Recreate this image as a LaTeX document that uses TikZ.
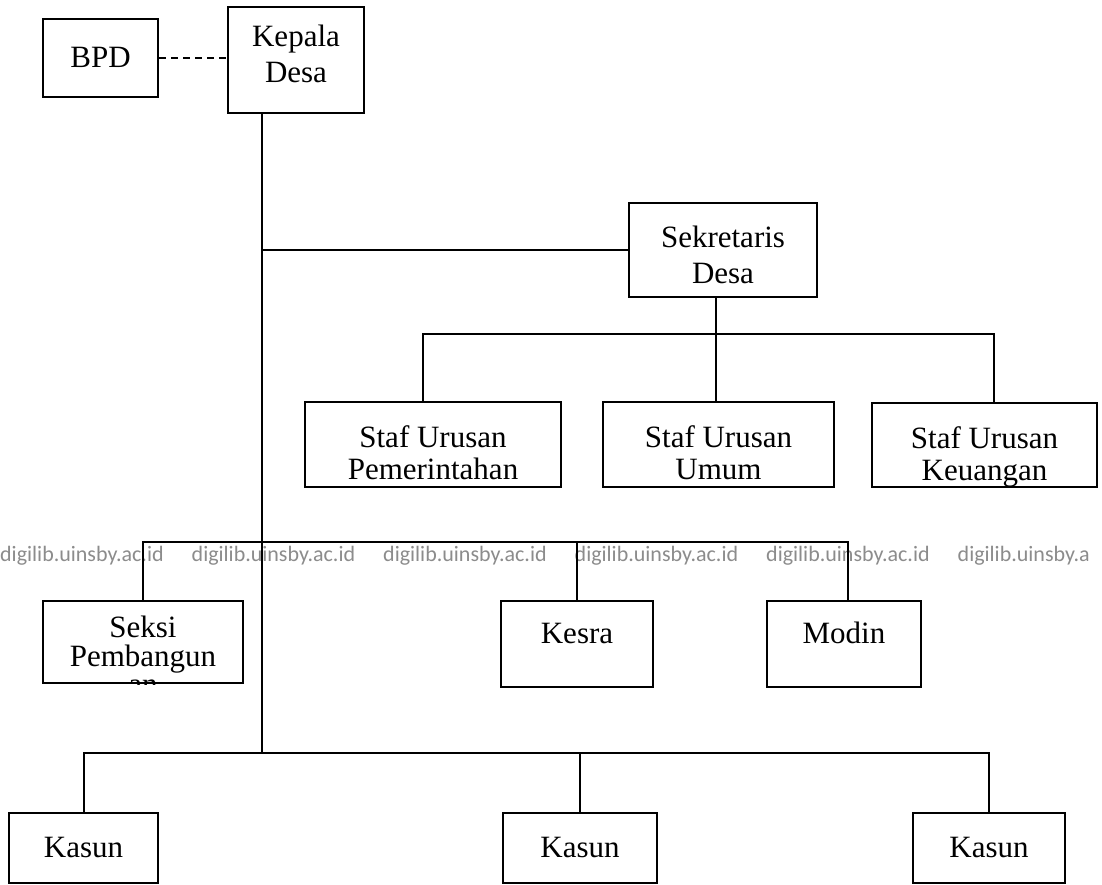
\documentclass[tikz,border=0pt]{standalone}
\usepackage{fontspec}
\setmainfont{Liberation Serif}
\newfontfamily\wmfont{Carlito}
\usetikzlibrary{calc}
\begin{document}
\begin{tikzpicture}[x=1pt,y=-1pt,
  box/.style={draw=black, line width=2pt, rectangle, inner sep=0pt},
  txt/.style={inner sep=0pt, align=center, font=\fontsize{31}{36}\selectfont},
  txtb/.style={inner sep=0pt, align=center, font=\fontsize{31}{32}\selectfont},
  link/.style={line width=2pt},
  wm/.style={text=black!45, font=\wmfont\fontsize{22}{22}\selectfont, anchor=base west, inner sep=0pt}]
\useasboundingbox[fill=white] (0,0) rectangle (1102,885);

% watermark
\foreach \i in {0,...,4} \node[wm] (wm\i) at (\i*191.5,561) {digilib.uinsby.ac.id};
\node[wm] (wm5) at (957.5,561) {digilib.uinsby.a};

% boxes
\node[box, minimum width=115pt, minimum height=78pt] (bpd) at (100.5,58) {};
\node[box, minimum width=136pt, minimum height=106pt] (kep) at (296,60) {};
\node[box, minimum width=188pt, minimum height=94pt] (sek) at (723,250) {};
\node[box, minimum width=256pt, minimum height=85pt] (sup) at (433,444.5) {};
\node[box, minimum width=231pt, minimum height=85pt] (suu) at (718.5,444.5) {};
\node[box, minimum width=225pt, minimum height=84pt] (suk) at (984.5,445) {};
\node[box, minimum width=200pt, minimum height=82pt] (seksi) at (143,642) {};
\node[box, minimum width=152pt, minimum height=86pt] (kesra) at (577,644) {};
\node[box, minimum width=154pt, minimum height=86pt] (modin) at (844,644) {};
\node[box, minimum width=149pt, minimum height=70pt] (k1) at (83.5,848) {};
\node[box, minimum width=154pt, minimum height=70pt] (k2) at (580,848) {};
\node[box, minimum width=152pt, minimum height=70pt] (k3) at (989,848) {};

% texts
\node[txt] (bpdtxt) at (100.5,57) {BPD};
\node[txt] (keptxt) at (296,54) {Kepala\\Desa};
\node[txt] (sektxt) at (723,255) {Sekretaris\\Desa};
\node[txtb] (suptxt) at (433,453) {Staf Urusan\\Pemerintahan};
\node[txtb] (suutxt) at (718.5,453) {Staf Urusan\\Umum};
\node[txtb] (suktxt) at (984.5,456.5) {Staf Urusan\\Keuangan};
\node[txt] (kesratxt) at (577,633) {Kesra};
\node[txt] (modintxt) at (844,633) {Modin};
\node[txt] (k1txt) at (83.5,847) {Kasun};
\node[txt] (k2txt) at (580,847) {Kasun};
\node[txt] (k3txt) at (989,847) {Kasun};
\begin{scope}
  \clip (seksi.south west) rectangle (seksi.north east);
  \node[inner sep=0pt, align=center, font=\fontsize{31}{28.5}\selectfont, anchor=north] (seksitxt) at ($(seksi.north)+(0,16)$) {Seksi\\Pembangun\\an};
\end{scope}

% connectors
\coordinate (tx) at (262,0);
\coordinate (kbar) at ($(k1.north)+(0,-59)$);
\draw[link, dash pattern=on 7pt off 5pt] (bpd.east) -- (bpd.east -| kep.west);
\draw[link] (kep.south -| tx) -- (tx |- kbar);
\draw[link] (tx |- sek.west) -- (sek.west);
\draw[link] ($(sek.south)+(-7,0)$) -- ++(0,38);
\draw[link] ($(sup.north)+(-10,0)$) -- ++(0,-67) -| ($(suk.north)+(9.5,0)$);
\draw[link] ($(suu.north)+(-2.5,0)$) -- ++(0,-67);
\draw[link] (seksi.north) -- ++(0,-58) -| ($(modin.north)+(4,0)$);
\draw[link] (kesra.north) -- ++(0,-58);
\draw[link] (k1.north) -- ++(0,-59) -| (k3.north);
\draw[link] (k2.north) -- ++(0,-59);
\end{tikzpicture}
\end{document}
